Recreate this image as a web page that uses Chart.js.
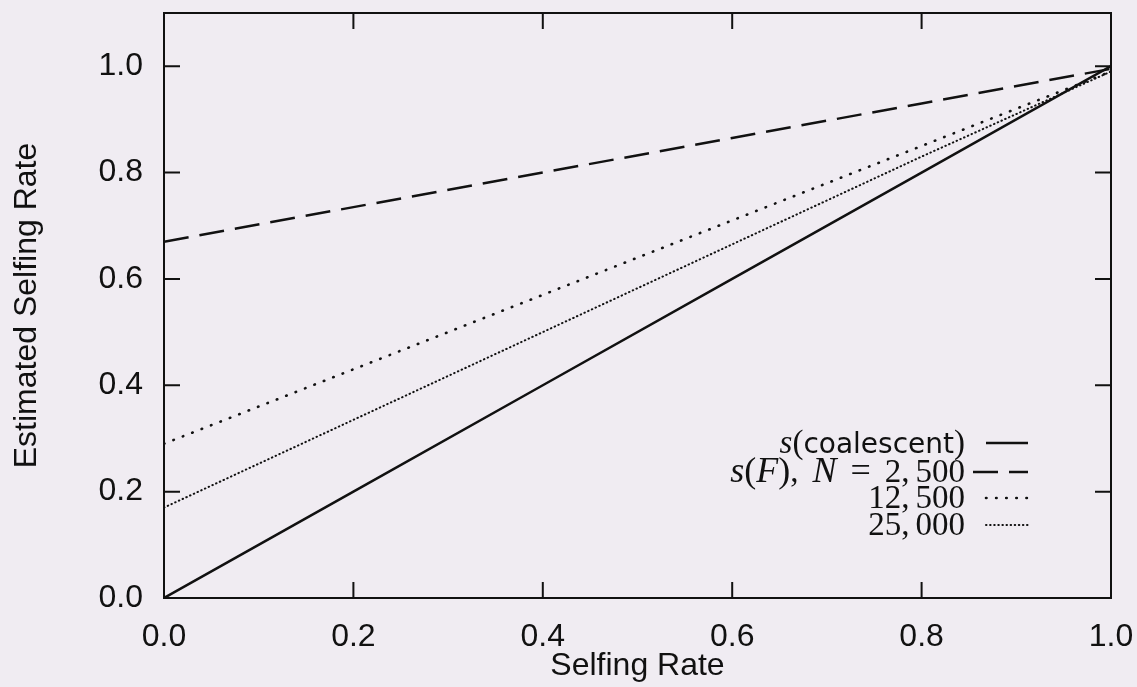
<!DOCTYPE html>
<html><head><meta charset="utf-8">
<script src="https://cdn.jsdelivr.net/npm/chart.js@4"></script>
<style>html,body{margin:0;padding:0;background:#f0ecf2;}#wrap{width:1137px;height:687px;position:relative;background:#f0ecf2;}</style>
</head><body><div id="wrap"><canvas id="c" width="1137" height="687"></canvas></div>
<script>
// ---- data ----
const selfingRate   = [0, 0.2, 0.4, 0.6, 0.8, 1.0];
const sCoalescent   = [0, 0.2, 0.4, 0.6, 0.8, 1.0];
const sF_N2500      = [0.67, 0.735, 0.80, 0.865, 0.93, 0.995];
const sF_N12500     = [0.29, 0.43, 0.57, 0.71, 0.85, 0.99];
const sF_N25000     = [0.17, 0.335, 0.50, 0.665, 0.83, 0.99];
const xTickValues   = [0, 0.2, 0.4, 0.6, 0.8, 1.0];
const yTickValues   = [0, 0.2, 0.4, 0.6, 0.8, 1.0];
const xAxisTitle    = 'Selfing Rate';
const yAxisTitle    = 'Estimated Selfing Rate';

const INK = '#111';
const SERIF = '"Liberation Serif", serif';
const SANS = '"Liberation Sans", sans-serif';
const toPts = ys => selfingRate.map((x, i) => ({x: x, y: ys[i]}));

const datasets = [
  {label: 's(coalescent)', data: toPts(sCoalescent), borderColor: INK, borderWidth: 2.5, borderDash: []},
  {label: 's(F), N = 2,500', data: toPts(sF_N2500), borderColor: INK, borderWidth: 2.5, borderDash: [25, 11]},
  {label: '12,500', data: toPts(sF_N12500), borderColor: INK, borderWidth: 2.6, borderDash: [0.5, 9.6], borderCapStyle: 'round'},
  {label: '25,000', data: toPts(sF_N25000), borderColor: INK, borderWidth: 2, borderDash: [0.5, 3.6], borderCapStyle: 'round'}
];
datasets.forEach(d => { d.pointRadius = 0; d.tension = 0; d.fill = false; });

const it = 'italic 33px ' + SERIF;
const rm = 'normal 33px ' + SERIF;
const itL = 'italic 36px ' + SERIF;
const rmL = 'normal 36px ' + SERIF;
const legendRows = [
  [{t:'s', f:it}, {t:'(', f:rm}, {t:'coalescent', f:'normal 28px "DejaVu Sans", sans-serif'}, {t:')', f:rm}],
  [{t:'s', f:itL}, {t:'(', f:rmL}, {t:'F', f:itL}, {t:')', f:rmL}, {t:',', f:rm, g:14}, {t:'N', f:itL, g:14}, {t:'=', f:rmL, g:14}, {t:'2', f:rm}, {t:',', f:rm, g:6}, {t:'500', f:rm}],
  [{t:'12', f:rm}, {t:',', f:rm, g:6}, {t:'500', f:rm}],
  [{t:'25', f:rm}, {t:',', f:rm, g:6}, {t:'000', f:rm}]
];

const decor = {
  id: 'decor',
  afterDraw(chart) {
    const ctx = chart.ctx, a = chart.chartArea;
    const sx = chart.scales.x, sy = chart.scales.y;
    ctx.save();
    ctx.strokeStyle = INK; ctx.lineWidth = 2; ctx.setLineDash([]);
    ctx.strokeRect(a.left, a.top, a.right - a.left, a.bottom - a.top);
    const TL = 16;
    ctx.beginPath();
    xTickValues.forEach(v => {
      const px = sx.getPixelForValue(v);
      ctx.moveTo(px, a.bottom); ctx.lineTo(px, a.bottom - TL);
      ctx.moveTo(px, a.top); ctx.lineTo(px, a.top + TL);
    });
    yTickValues.forEach(v => {
      const py = sy.getPixelForValue(v);
      ctx.moveTo(a.left, py); ctx.lineTo(a.left + TL, py);
      ctx.moveTo(a.right, py); ctx.lineTo(a.right - TL, py);
    });
    ctx.stroke();

    // axis titles
    ctx.fillStyle = INK;
    ctx.font = 'normal 32px ' + SANS;
    ctx.textAlign = 'center'; ctx.textBaseline = 'alphabetic';
    ctx.fillText(xAxisTitle, (a.left + a.right) / 2, 675);
    ctx.save();
    ctx.translate(36, (a.top + a.bottom) / 2);
    ctx.rotate(-Math.PI / 2);
    ctx.fillText(yAxisTitle, 0, 0);
    ctx.restore();

    // legend
    const rightX = 965, baselines = [453, 482, 508, 535];
    ctx.textAlign = 'left';
    legendRows.forEach((row, r) => {
      let w = 0;
      row.forEach(s => { ctx.font = s.f; w += ctx.measureText(s.t).width + (s.g || 0); });
      let x = rightX - w;
      row.forEach(s => { ctx.font = s.f; ctx.fillText(s.t, x, baselines[r]); x += ctx.measureText(s.t).width + (s.g || 0); });
      const ds = datasets[r];
      const ly = baselines[r] - 10;
      ctx.beginPath();
      ctx.lineWidth = ds.borderWidth;
      ctx.setLineDash(ds.borderDash);
      ctx.lineCap = ds.borderCapStyle || 'butt';
      const x0 = r === 1 ? 973 : 986;
      ctx.moveTo(x0, ly); ctx.lineTo(1028, ly);
      ctx.stroke();
    });
    ctx.restore();
  }
};

new Chart(document.getElementById('c'), {
  type: 'line',
  data: {datasets: datasets},
  options: {
    responsive: false, animation: false, devicePixelRatio: 1,
    layout: {padding: {top: 13, right: 26, left: 0, bottom: 0}},
    plugins: {legend: {display: false}, tooltip: {enabled: false}},
    scales: {
      x: {
        type: 'linear', min: 0, max: 1,
        afterBuildTicks: s => { s.ticks = xTickValues.map(v => ({value: v})); },
        afterFit: s => { s.height = 89; s.paddingLeft = 0; s.paddingRight = 0; },
        grid: {display: false, drawTicks: false, tickLength: 0}, border: {display: false},
        ticks: {color: INK, font: {family: SANS, size: 32}, padding: 20, maxRotation: 0, autoSkip: false,
                callback: v => Number(v).toFixed(1)}
      },
      y: {
        type: 'linear', min: 0, max: 1.1,
        afterBuildTicks: s => { s.ticks = yTickValues.map(v => ({value: v})); },
        afterFit: s => { s.width = 164; s.paddingTop = 0; s.paddingBottom = 0; },
        grid: {display: false, drawTicks: false, tickLength: 0}, border: {display: false},
        ticks: {color: INK, font: {family: SANS, size: 32}, padding: 21, autoSkip: false,
                callback: v => Number(v).toFixed(1)}
      }
    }
  },
  plugins: [decor]
});
</script></body></html>
